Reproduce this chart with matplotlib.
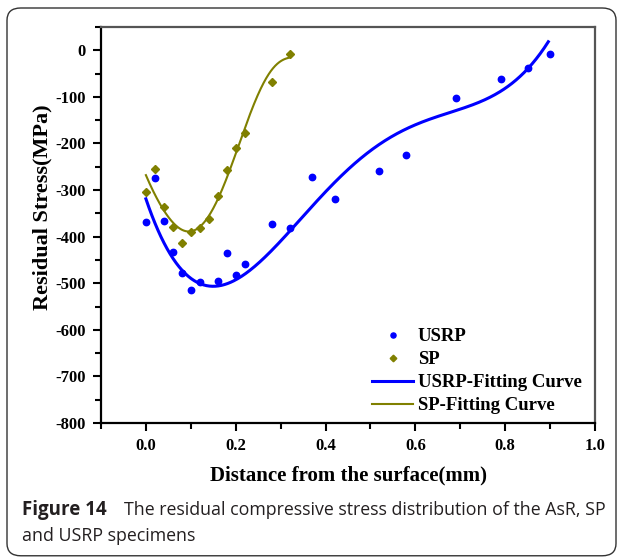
import numpy as np
import matplotlib
matplotlib.use("Agg")
import matplotlib.pyplot as plt
from matplotlib.patches import FancyBboxPatch
from matplotlib.ticker import MultipleLocator

usrp_x = [0.00, 0.02, 0.04, 0.06, 0.08, 0.10, 0.12, 0.16, 0.18, 0.20, 0.22,
          0.28, 0.32, 0.37, 0.42, 0.52, 0.58, 0.69, 0.79, 0.85, 0.90]
usrp_y = [-369, -275, -366, -434, -477, -515, -498, -495, -435, -483, -458,
          -373, -382, -271, -319, -259, -224, -103, -62, -38, -7]

sp_x = [0.00, 0.02, 0.04, 0.06, 0.08, 0.10, 0.12, 0.14, 0.16, 0.18, 0.20,
        0.22, 0.28, 0.32]
sp_y = [-304, -255, -336, -379, -414, -389, -381, -363, -312, -257, -210,
        -177, -67, -9]

# ---- fitting curves: points ----
usrp_fit_x = [0.000, 0.024, 0.061, 0.098, 0.150, 0.201, 0.238, 0.280, 0.320,
              0.372, 0.409, 0.483, 0.557, 0.631, 0.705, 0.779, 0.853, 0.896]
usrp_fit_y = [-313, -392, -442, -485, -508, -496, -466, -428, -385,
              -335, -299, -227, -177, -148, -127, -95, -34, 17]

sp_fit_x = [0.000, 0.024, 0.061, 0.098, 0.135, 0.172, 0.201, 0.218, 0.246,
            0.276, 0.298, 0.313, 0.318]
sp_fit_y = [-267, -320, -367, -389, -367, -292, -213, -177, -105,
            -48, -23, -16, -18]

x_ticks = [0.0, 0.2, 0.4, 0.6, 0.8, 1.0]
y_ticks = [0, -100, -200, -300, -400, -500, -600, -700, -800]

caption_bold = "Figure 14"
caption_line1 = "The residual compressive stress distribution of the AsR, SP"
caption_line2 = "and USRP specimens"

serif = ["Liberation Serif", "DejaVu Serif"]
W, H = 624, 558

fig = plt.figure(figsize=(W / 100, H / 100), dpi=100)

# caption frame
frame = FancyBboxPatch((7 / W, 0.004), 609 / W, 1 - 8 / H - 0.004,
                       boxstyle="round,pad=0,rounding_size=0.022",
                       transform=fig.transFigure, fill=False,
                       edgecolor="#333333", linewidth=1.0)
fig.patches.append(frame)

ax = fig.add_axes([101 / W, 1 - 423 / H, 494 / W, 396 / H])

ax.plot(usrp_x, usrp_y, linestyle="none", marker="o", ms=4.6,
        color="#0000ff", label="USRP", zorder=3)
ax.plot(sp_x, sp_y, linestyle="none", marker="D", ms=4.2,
        color="#808000", label="SP", zorder=3)

cu = np.polyfit(usrp_fit_x, usrp_fit_y, 6)
xu = np.linspace(usrp_fit_x[0], usrp_fit_x[-1], 400)
ax.plot(xu, np.polyval(cu, xu), color="#0000ff", lw=2.2,
        label="USRP-Fitting Curve", zorder=2)
cs = np.polyfit(sp_fit_x, sp_fit_y, 6)
xs = np.linspace(sp_fit_x[0], sp_fit_x[-1], 400)
ax.plot(xs, np.polyval(cs, xs), color="#808000", lw=1.5,
        label="SP-Fitting Curve", zorder=2)

ax.set_xlim(-0.1, 1.0)
ax.set_ylim(-800, 50)
ax.set_xticks(x_ticks)
ax.set_yticks(y_ticks)
ax.xaxis.set_minor_locator(MultipleLocator(0.1))
ax.yaxis.set_minor_locator(MultipleLocator(50))
ax.set_xticklabels([f"{v:.1f}" for v in x_ticks], fontfamily=serif,
                   fontweight="bold", fontsize=12)
ax.set_yticklabels([f"{v:d}" for v in y_ticks], fontfamily=serif,
                   fontweight="bold", fontsize=12)
ax.tick_params(which="major", direction="out", length=6, width=1.5, pad=5)
ax.tick_params(which="minor", direction="out", length=4, width=1.5)
ax.tick_params(top=False, right=False)

for s in ["left", "bottom"]:
    ax.spines[s].set_linewidth(1.6)
    ax.spines[s].set_color("black")
for s in ["top", "right"]:
    ax.spines[s].set_linewidth(1.6)
    ax.spines[s].set_color("#555555")

ax.set_xlabel("Distance from the surface(mm)", fontfamily=serif,
              fontweight="bold", fontsize=15, labelpad=8)
ax.set_ylabel("Residual Stress(MPa)", fontfamily=serif,
              fontweight="bold", fontsize=16)
ax.yaxis.set_label_coords((52 - 101) / 494, (423 - 207) / 396)

leg = ax.legend(loc="upper left", bbox_to_anchor=((372 - 101) / 494,
                                                  (423 - 328) / 396),
                frameon=False, prop={"family": serif, "weight": "bold",
                                     "size": 13.5},
                handlelength=2.2, handletextpad=0.25, labelspacing=0.32,
                borderaxespad=0, borderpad=0, markerscale=0.8)

cap_kw = dict(family="Open Sans", color="#231f20")
fig.text(22 / W, 1 - 515 / H, caption_bold, fontweight="bold",
         fontsize=13.5, **cap_kw)
fig.text(124 / W, 1 - 515 / H, caption_line1, fontsize=12.8, **cap_kw)
fig.text(22 / W, 1 - 541 / H, caption_line2, fontsize=12.8, **cap_kw)

fig.savefig("out.png", dpi=100)
